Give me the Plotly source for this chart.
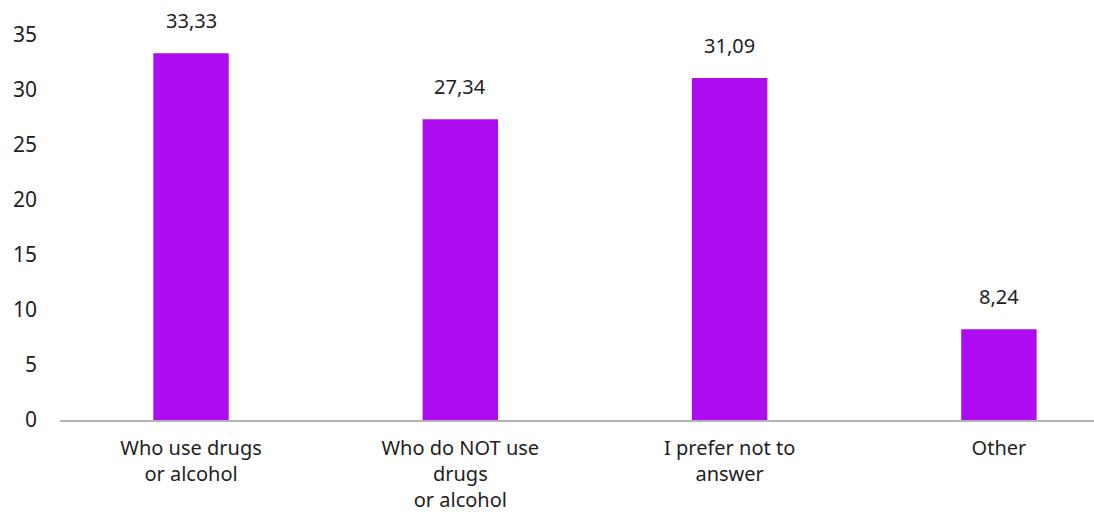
import plotly.graph_objects as go

categories = ["Who use drugs<br>or alcohol", "Who do NOT use<br>drugs<br>or alcohol",
              "I prefer not to<br>answer", "Other"]
values = [33.33, 27.34, 31.09, 8.24]
value_labels = ["33,33", "27,34", "31,09", "8,24"]
y_ticks = [0, 5, 10, 15, 20, 25, 30, 35]

BAR_COLOR = "#AD0CF0"
TEXT_COLOR = "#1e1e1e"
FONT = "Noto Sans, Roboto, sans-serif"

x_pos = list(range(len(categories)))

fig = go.Figure()
fig.add_trace(go.Bar(
    x=x_pos, y=values, width=0.28,
    marker=dict(color=BAR_COLOR, line=dict(width=0)),
    hoverinfo="skip",
))

# value labels above the bars
for x, v, lab in zip(x_pos, values, value_labels):
    fig.add_annotation(x=x, y=v, text=lab, showarrow=False,
                       yanchor="bottom", yshift=17,
                       font=dict(size=20, color=TEXT_COLOR, family=FONT))

fig.update_layout(
    width=1094, height=516,
    margin=dict(l=60, r=0, t=2, b=96),
    paper_bgcolor="white", plot_bgcolor="white",
    showlegend=False,
    separators=",.",
    font=dict(family=FONT, size=20, color=TEXT_COLOR),
    xaxis=dict(
        tickmode="array", tickvals=x_pos, ticktext=categories,
        range=[-0.4865, 3.353], showgrid=False, zeroline=False,
        showline=True, linecolor="#b3b3b3", linewidth=1.5, ticks="",
        ticklabelstandoff=9, automargin=False,
        tickfont=dict(size=20, color=TEXT_COLOR, family=FONT),
    ),
    yaxis=dict(
        range=[0, 38], tickmode="array", tickvals=y_ticks,
        showgrid=False, zeroline=False, showline=False, ticks="",
        ticklabelstandoff=22, automargin=False,
        tickfont=dict(size=21, color=TEXT_COLOR),
    ),
)

fig.write_html("out.html")
